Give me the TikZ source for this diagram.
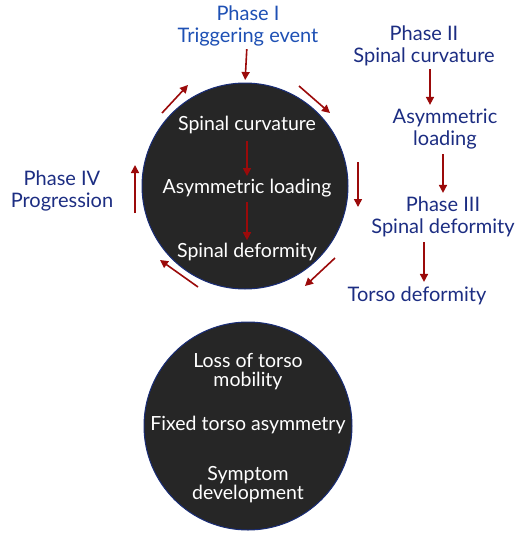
\documentclass[tikz,border=0pt]{standalone}
\usepackage{fontspec}
\setmainfont{Lato}
\usetikzlibrary{positioning,arrows.meta}
\definecolor{phaseblue}{RGB}{30,80,180}
\definecolor{navytext}{RGB}{28,45,130}
\definecolor{arrowred}{RGB}{155,10,10}
\definecolor{discfill}{RGB}{38,38,38}
\definecolor{discedge}{RGB}{25,45,120}

\begin{document}
\begin{tikzpicture}[x=1pt, y=-1pt, outer sep=0pt, inner sep=0pt,
    disc/.style={circle, draw=discedge, line width=1pt, fill=discfill, minimum size=206pt},
    intext/.style={text=white, align=center, font=\fontsize{19.5}{19}\selectfont},
    outtext/.style={text=navytext, align=center, font=\fontsize{20}{22}\selectfont},
    redarrow/.style={draw=arrowred, line width=1.6pt, -{Triangle[length=8pt,width=8pt]}}]
    \useasboundingbox (0,0) rectangle (526,542);

    % the two discs
    \node [disc] (cycle) at (245,186) {};
    \node [disc, minimum size=208pt] (late) at (248,426) {};

    % text inside the upper disc
    \node [intext] (curv) at (247,125) {Spinal curvature};
    \node [intext] (load) at (247,188) {Asymmetric loading};
    \node [intext] (deform) at (247,252) {Spinal deformity};
    \draw [redarrow, shorten <=7pt, shorten >=3pt] (curv) -- (load);
    \draw [redarrow, shorten <=5pt, shorten >=3pt] (load) -- (deform);

    % text inside the lower disc
    \node [intext] (mobility) at (248,372) {Loss of torso\\mobility};
    \node [intext] (fixed) at (248,425) {Fixed torso asymmetry};
    \node [intext] (symptom) at (248,485) {Symptom\\development};

    % phases
    \node [outtext, text=phaseblue] (phaseone) at (248,26) {Phase I\\Triggering event};
    \node [outtext] (phasetwo) at (424,46) {Phase II\\Spinal curvature};
    \node [outtext] (loadtwo) at (445,129) {Asymmetric\\loading};
    \node [outtext] (phasethree) at (443,217) {Phase III\\Spinal deformity};
    \node [outtext] (torso) at (417,296) {Torso deformity};
    \node [outtext] (phasefour) at (62,191) {Phase IV\\Progression};

    \draw [redarrow, shorten <=3pt, shorten >=3pt] (phaseone) -- (cycle.north);
    \draw [redarrow, shorten <=3pt, shorten >=4pt] ([xshift=6pt]phasetwo.south) -- ([xshift=6pt]phasetwo.south |- loadtwo.north);
    \draw [redarrow, shorten <=5pt, shorten >=4pt] ([xshift=-2pt]loadtwo.south) -- ([xshift=-2pt]loadtwo.south |- phasethree.north);
    \draw [redarrow, shorten <=5pt, shorten >=5pt] ([xshift=-19pt]phasethree.south) -- ([xshift=-19pt]phasethree.south |- torso.north);

    % arrows round the upper disc
    \coordinate (nwtail) at (162,113);
    \coordinate (nwhead) at (188,85);
    \coordinate (netail) at (299,86);
    \coordinate (nehead) at (330,113);
    \coordinate (etail) at (358,162);
    \coordinate (ehead) at (358,207);
    \coordinate (setail) at (335,258);
    \coordinate (sehead) at (305,286);
    \coordinate (swtail) at (198,287);
    \coordinate (swhead) at (160,260);
    \coordinate (wtail) at (135,213);
    \coordinate (whead) at (135,165);
    \draw [redarrow] (nwtail) -- (nwhead);
    \draw [redarrow] (netail) -- (nehead);
    \draw [redarrow] (etail) -- (ehead);
    \draw [redarrow] (setail) -- (sehead);
    \draw [redarrow] (swtail) -- (swhead);
    \draw [redarrow] (wtail) -- (whead);
\end{tikzpicture}
\end{document}
